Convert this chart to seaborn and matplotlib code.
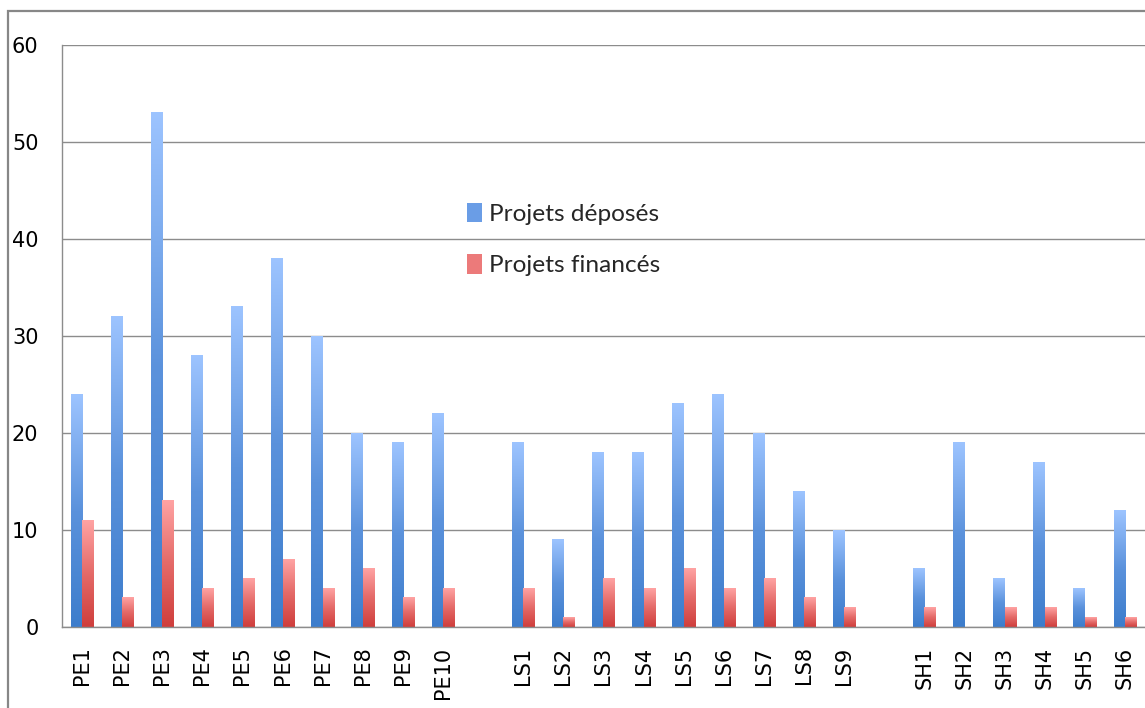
import numpy as np
import pandas as pd
import matplotlib
matplotlib.use("Agg")
import matplotlib.pyplot as plt
import seaborn as sns
from matplotlib.colors import LinearSegmentedColormap
from matplotlib.patches import Patch, Rectangle

# ---- data ----
pe_labels = ["PE1", "PE2", "PE3", "PE4", "PE5", "PE6", "PE7", "PE8", "PE9", "PE10"]
ls_labels = ["LS1", "LS2", "LS3", "LS4", "LS5", "LS6", "LS7", "LS8", "LS9"]
sh_labels = ["SH1", "SH2", "SH3", "SH4", "SH5", "SH6"]

pe_deposes = [24, 32, 53, 28, 33, 38, 30, 20, 19, 22]
ls_deposes = [19, 9, 18, 18, 23, 24, 20, 14, 10]
sh_deposes = [6, 19, 5, 17, 4, 12]

pe_finances = [11, 3, 13, 4, 5, 7, 4, 6, 3, 4]
ls_finances = [4, 1, 5, 4, 6, 4, 5, 3, 2]
sh_finances = [2, 0, 2, 2, 1, 1]

series_names = ["Projets déposés", "Projets financés"]
y_ticks = [0, 10, 20, 30, 40, 50, 60]

labels = pe_labels + ls_labels + sh_labels
deposes = pe_deposes + ls_deposes + sh_deposes
finances = pe_finances + ls_finances + sh_finances

order = pe_labels + ["_gap1"] + ls_labels + ["_gap2"] + sh_labels
tick_text = ["" if o.startswith("_gap") else o for o in order]

df = pd.DataFrame({
    "cat": labels * 2,
    "val": deposes + finances,
    "serie": [series_names[0]] * len(labels) + [series_names[1]] * len(labels),
})

# ---- figure ----
sns.set_style("white")
plt.rcParams["font.family"] = ["DejaVu Sans"]
fig = plt.figure(figsize=(11.45, 7.08), dpi=100)
W, H = 1145, 708
ax = fig.add_axes([62 / W, 1 - 627 / H, (W - 62) / W, (627 - 45) / H])

mid_blue = "#6a9de6"
mid_red = "#ec7a7a"
sns.barplot(data=df, x="cat", y="val", hue="serie", order=order,
            hue_order=series_names, palette=[mid_blue, mid_red],
            width=0.57, gap=0, dodge=True, ax=ax, legend=False, zorder=3)

cmaps = [
    LinearSegmentedColormap.from_list("b", ["#3d7dcc", "#5b92dc", "#9dc4ff"]),
    LinearSegmentedColormap.from_list("r", ["#cf3e3c", "#e46a68", "#ffa3a3"]),
]
grad = np.linspace(0, 1, 256).reshape(-1, 1)
for cont, cm in zip(ax.containers, cmaps):
    for p in cont.patches:
        x0, y0, w, h = p.get_x(), p.get_y(), p.get_width(), p.get_height()
        p.set_facecolor("none")
        p.set_edgecolor("none")
        if not np.isfinite(h) or h <= 0:
            continue
        ax.imshow(grad, extent=[x0, x0 + w, y0, y0 + h], origin="lower",
                  cmap=cm, aspect="auto", zorder=3, interpolation="bilinear")

ax.set_xlim(-0.5, len(order) - 0.5)
ax.set_ylim(0, 60)
ax.set_yticks(y_ticks)
ax.set_xticks(range(len(order)))
ax.set_xticklabels(tick_text, rotation=90, fontsize=15)
ax.set_xticks(np.arange(-0.5, len(order), 1.0), minor=True)
ax.tick_params(axis="x", which="major", length=0, pad=14, colors="black")
ax.tick_params(axis="x", which="minor", length=7, width=1, color="#8c8c8c")
ax.tick_params(axis="y", length=6, width=1, color="#8c8c8c", pad=11,
               labelsize=15, labelcolor="black")
ax.set_xlabel("")
ax.set_ylabel("")

ax.yaxis.grid(True, color="#8c8c8c", linewidth=1)
ax.set_axisbelow(True)
for s in ["top", "right"]:
    ax.spines[s].set_visible(False)
for s in ["left", "bottom"]:
    ax.spines[s].set_color("#8c8c8c")
    ax.spines[s].set_linewidth(1)
    ax.spines[s].set_zorder(4)

handles = [Patch(facecolor=mid_blue, edgecolor="none"),
           Patch(facecolor=mid_red, edgecolor="none")]
ax.legend(handles, series_names, loc="upper left", bbox_to_anchor=(0.3735, 0.729),
          frameon=False, borderpad=0, borderaxespad=0, handlelength=0.62,
          handleheight=0.85, handletextpad=0.3, labelspacing=1.2,
          prop={"family": ["Lato", "DejaVu Sans"], "size": 17.6})

# outer chart border
fig.add_artist(Rectangle((8 / W, -0.05), 1.2, 1 - 11 / H + 0.05,
                         transform=fig.transFigure, fill=False,
                         edgecolor="#878787", linewidth=1.6))

fig.savefig("out.png", dpi=100, facecolor="white")
